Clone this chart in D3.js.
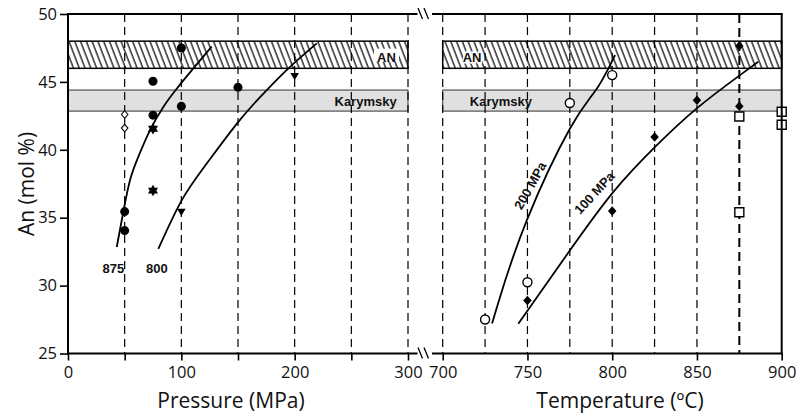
<!DOCTYPE html>
<html>
<head>
<meta charset="utf-8">
<script src="https://cdn.jsdelivr.net/npm/d3@7"></script>
<style>
  body { margin: 0; background: #fff; }
  svg { display: block; }
  .tick text { font-family: "Open Sans", sans-serif; font-size: 16.5px; fill: #111; }
  .tick line { stroke: #000; stroke-width: 1.6; }
  .title { font-family: "Open Sans", sans-serif; font-size: 21px; fill: #111; }
  .lbl { font-family: "Liberation Sans", Arial, sans-serif; font-weight: bold; font-size: 13px; fill: #111; }
</style>
</head>
<body>
<svg id="chart" width="797" height="416"></svg>
<script>
// axis ticks
const anTicks = [25, 30, 35, 40, 45, 50];
const pressureTicks = [0, 50, 100, 150, 200, 250, 300];
const tempTicks = [700, 750, 800, 850, 900];
const pressureGrid = [50, 100, 150, 200, 250, 300];
const tempGrid = [700, 725, 750, 775, 800, 825, 850];
const tempGridBold = [875];

// bands (An mol %)
const anBand = [46, 48];
const karymskyBand = [42.85, 44.4];

// left panel: An vs pressure
const circlesP = [[100, 47.5], [75, 45.05], [150, 44.6], [100, 43.2], [75, 42.55], [50, 35.45], [50, 34.05]];
const diamondsOpenP = [[50, 42.6], [50, 41.6]];
const starsP = [[75, 41.55], [75, 37.0]];
const trianglesP = [[200, 45.4], [100, 35.4]];
const curve875 = [[43, 32.84], [48.8, 35.42], [54.7, 37.76], [62, 39.48], [72.4, 41.45], [84.1, 43.16], [95.9, 44.5], [110.6, 46.0], [126.8, 47.6]];
const curve800 = [[79.7, 32.7], [100.3, 36.28], [122.4, 38.99], [150.3, 42.06], [173.9, 44.27], [195.9, 46.11], [219.5, 47.84]];

// right panel: An vs temperature
const circlesT = [[725, 27.5], [750, 30.25], [775, 43.45], [800, 45.5]];
const diamondsT = [[750, 28.9], [800, 35.5], [825, 40.95], [850, 43.65], [875, 47.65], [875, 43.2]];
const squaresT = [[875, 42.45], [875, 35.4], [900, 42.8], [900, 41.85]];
const curve200 = [[729.1, 27.2], [733.8, 29.15], [749.6, 34.8], [775.1, 41.57], [790.9, 44.5], [801.7, 46.98]];
const curve100 = [[744.6, 27.19], [775.1, 32.6], [800.7, 36.9], [825.3, 40.21], [849.9, 43.05], [875.4, 45.5], [886.2, 46.48]];

const svg = d3.select("#chart");

const y = d3.scaleLinear().domain([25, 50]).range([353.5, 14]);
const xP = d3.scaleLinear().domain([0, 300]).range([68, 408]);
const xT = d3.scaleLinear().domain([700, 900]).range([442.7, 781.7]);

// hatch pattern for the AN band
const defs = svg.append("defs");
defs.append("pattern")
    .attr("id", "hatch")
    .attr("patternUnits", "userSpaceOnUse")
    .attr("width", 5.4).attr("height", 10)
    .attr("patternTransform", "rotate(-21)")
  .append("line")
    .attr("x1", 1).attr("y1", 0).attr("x2", 1).attr("y2", 10)
    .attr("stroke", "#000").attr("stroke-width", 1.2);

const panels = [
  { x: xP, lo: 0, hi: 300 },
  { x: xT, lo: 700, hi: 900 }
];

// bands
panels.forEach(p => {
  svg.append("rect")
      .attr("x", p.x(p.lo)).attr("y", y(karymskyBand[1]))
      .attr("width", p.x(p.hi) - p.x(p.lo))
      .attr("height", y(karymskyBand[0]) - y(karymskyBand[1]))
      .attr("fill", "#e0e0e0").attr("stroke", "#333").attr("stroke-width", 1);
  svg.append("rect")
      .attr("x", p.x(p.lo)).attr("y", y(anBand[1]))
      .attr("width", p.x(p.hi) - p.x(p.lo))
      .attr("height", y(anBand[0]) - y(anBand[1]))
      .attr("fill", "url(#hatch)").attr("stroke", "#000").attr("stroke-width", 1.5);
});

// dashed grid lines
const grid = svg.append("g").attr("fill", "none").attr("stroke", "#000");
grid.selectAll(".gp").data(pressureGrid).enter().append("line")
    .attr("x1", d => xP(d)).attr("x2", d => xP(d))
    .attr("y1", y(50)).attr("y2", y(25))
    .attr("stroke-width", 1.2).attr("stroke-dasharray", "8,5");
grid.selectAll(".gt").data(tempGrid).enter().append("line")
    .attr("x1", d => xT(d)).attr("x2", d => xT(d))
    .attr("y1", y(50)).attr("y2", y(25))
    .attr("stroke-width", 1.2).attr("stroke-dasharray", "8,5");
grid.selectAll(".gb").data(tempGridBold).enter().append("line")
    .attr("x1", d => xT(d)).attr("x2", d => xT(d))
    .attr("y1", y(50)).attr("y2", y(25))
    .attr("stroke-width", 2).attr("stroke-dasharray", "9,5");

// band labels
const anLeft = svg.append("g");
anLeft.append("rect").attr("x", xP(270)).attr("y", y(47.45)).attr("width", 25).attr("height", 13).attr("fill", "#fff");
anLeft.append("text").attr("class", "lbl").attr("x", xP(281)).attr("y", y(46.5))
    .attr("text-anchor", "middle").text("AN");
svg.append("text").attr("class", "lbl").attr("x", xT(717.3)).attr("y", y(46.5))
    .attr("text-anchor", "middle")
    .attr("stroke", "#fff").attr("stroke-width", 3).attr("paint-order", "stroke")
    .text("AN");
svg.append("text").attr("class", "lbl").attr("x", xP(290)).attr("y", y(43.2))
    .attr("text-anchor", "end").text("Karymsky");
svg.append("text").attr("class", "lbl").attr("x", xT(716)).attr("y", y(43.2))
    .text("Karymsky");

// curves
const lineP = d3.line().x(d => xP(d[0])).y(d => y(d[1])).curve(d3.curveNatural);
const lineT = d3.line().x(d => xT(d[0])).y(d => y(d[1])).curve(d3.curveNatural);
[curve875, curve800].forEach(c => {
  svg.append("path").attr("d", lineP(c)).attr("fill", "none").attr("stroke", "#000").attr("stroke-width", 1.8);
});
[curve200, curve100].forEach(c => {
  svg.append("path").attr("d", lineT(c)).attr("fill", "none").attr("stroke", "#000").attr("stroke-width", 1.8);
});

// curve labels
svg.append("text").attr("class", "lbl").attr("x", xP(40)).attr("y", y(30.95))
    .attr("text-anchor", "middle").text("875");
svg.append("text").attr("class", "lbl").attr("x", xP(78.5)).attr("y", y(30.95))
    .attr("text-anchor", "middle").text("800");
svg.append("text").attr("class", "lbl")
    .attr("text-anchor", "middle")
    .attr("transform", `translate(${xT(754)},${y(37.2)}) rotate(-61)`)
    .text("200 MPa");
svg.append("text").attr("class", "lbl")
    .attr("text-anchor", "middle")
    .attr("transform", `translate(${xT(791.5)},${y(36.6)}) rotate(-47)`)
    .text("100 MPa");

// custom marker shapes
const diamond = (w, h) => ({ draw(ctx) {
  ctx.moveTo(0, -h / 2); ctx.lineTo(w / 2, 0); ctx.lineTo(0, h / 2); ctx.lineTo(-w / 2, 0); ctx.closePath();
}});
const triDown = { draw(ctx) {
  ctx.moveTo(-4.3, -3.5); ctx.lineTo(4.3, -3.5); ctx.lineTo(0, 3.8); ctx.closePath();
}};
const hexStar = { draw(ctx) {
  const r = 5.8;
  for (const off of [-Math.PI / 2, Math.PI / 2]) {
    for (let i = 0; i < 3; i++) {
      const a = off + i * 2 * Math.PI / 3;
      if (i === 0) ctx.moveTo(r * Math.cos(a), r * Math.sin(a));
      else ctx.lineTo(r * Math.cos(a), r * Math.sin(a));
    }
    ctx.closePath();
  }
}};

function marks(data, xs, type, fill, stroke, sw) {
  svg.append("g").selectAll("path").data(data).enter().append("path")
      .attr("transform", d => `translate(${xs(d[0])},${y(d[1])})`)
      .attr("d", d3.symbol().type(type).size(64))
      .attr("fill", fill).attr("stroke", stroke).attr("stroke-width", sw);
}

marks(circlesP, xP, d3.symbolCircle, "#000", "none", 0);
marks(diamondsOpenP, xP, diamond(6.5, 7.5), "#fff", "#000", 1.1);
marks(starsP, xP, hexStar, "#000", "none", 0);
marks(trianglesP, xP, triDown, "#000", "none", 0);

marks(circlesT, xT, d3.symbolCircle, "#fff", "#000", 1.4);
marks(diamondsT, xT, diamond(8.5, 9.5), "#000", "none", 0);
svg.append("g").selectAll("path").data(squaresT).enter().append("path")
    .attr("transform", d => `translate(${xT(d[0])},${y(d[1])})`)
    .attr("d", d3.symbol().type(d3.symbolSquare).size(81))
    .attr("fill", "#fff").attr("stroke", "#000").attr("stroke-width", 1.4);

// axes
const yAxis = svg.append("g").attr("transform", `translate(${xP(0)},0)`)
    .call(d3.axisLeft(y).tickValues(anTicks).tickSize(8).tickPadding(3));
yAxis.select(".domain").remove();

const xAxisP = svg.append("g").attr("transform", `translate(0,${y(25)})`)
    .call(d3.axisBottom(xP).tickValues(pressureTicks).tickSize(7).tickPadding(6)
      .tickFormat(d => d % 100 === 0 ? d : ""));
xAxisP.select(".domain").remove();

const xAxisT = svg.append("g").attr("transform", `translate(0,${y(25)})`)
    .call(d3.axisBottom(xT).tickValues(tempTicks).tickSize(7).tickPadding(6));
xAxisT.select(".domain").remove();

// frame with axis breaks
const frame = svg.append("g").attr("fill", "none").attr("stroke", "#000").attr("stroke-width", 2);
frame.append("line").attr("x1", xP(0)).attr("x2", xP(0)).attr("y1", y(50)).attr("y2", y(25));
frame.append("line").attr("x1", xT(900)).attr("x2", xT(900)).attr("y1", y(50)).attr("y2", y(25));
[y(50), y(25)].forEach(yy => {
  frame.append("line").attr("x1", xP(0) - 1).attr("x2", 417.5).attr("y1", yy).attr("y2", yy);
  frame.append("line").attr("x1", 432).attr("x2", xT(900) + 1).attr("y1", yy).attr("y2", yy);
  frame.append("path").attr("stroke-width", 1.3)
      .attr("d", `M418,${yy - 6}L422.5,${yy + 5}M424,${yy - 6}L428.5,${yy + 5}`);
});

// titles
svg.append("text").attr("class", "title").attr("text-anchor", "middle")
    .attr("x", 231).attr("y", 408).text("Pressure (MPa)");
svg.append("text").attr("class", "title").attr("text-anchor", "middle")
    .attr("x", 620).attr("y", 408).text("Temperature (ºC)");
svg.append("text").attr("class", "title").attr("text-anchor", "middle")
    .attr("transform", "translate(34,184) rotate(-90)").text("An (mol %)");
</script>
</body>
</html>
